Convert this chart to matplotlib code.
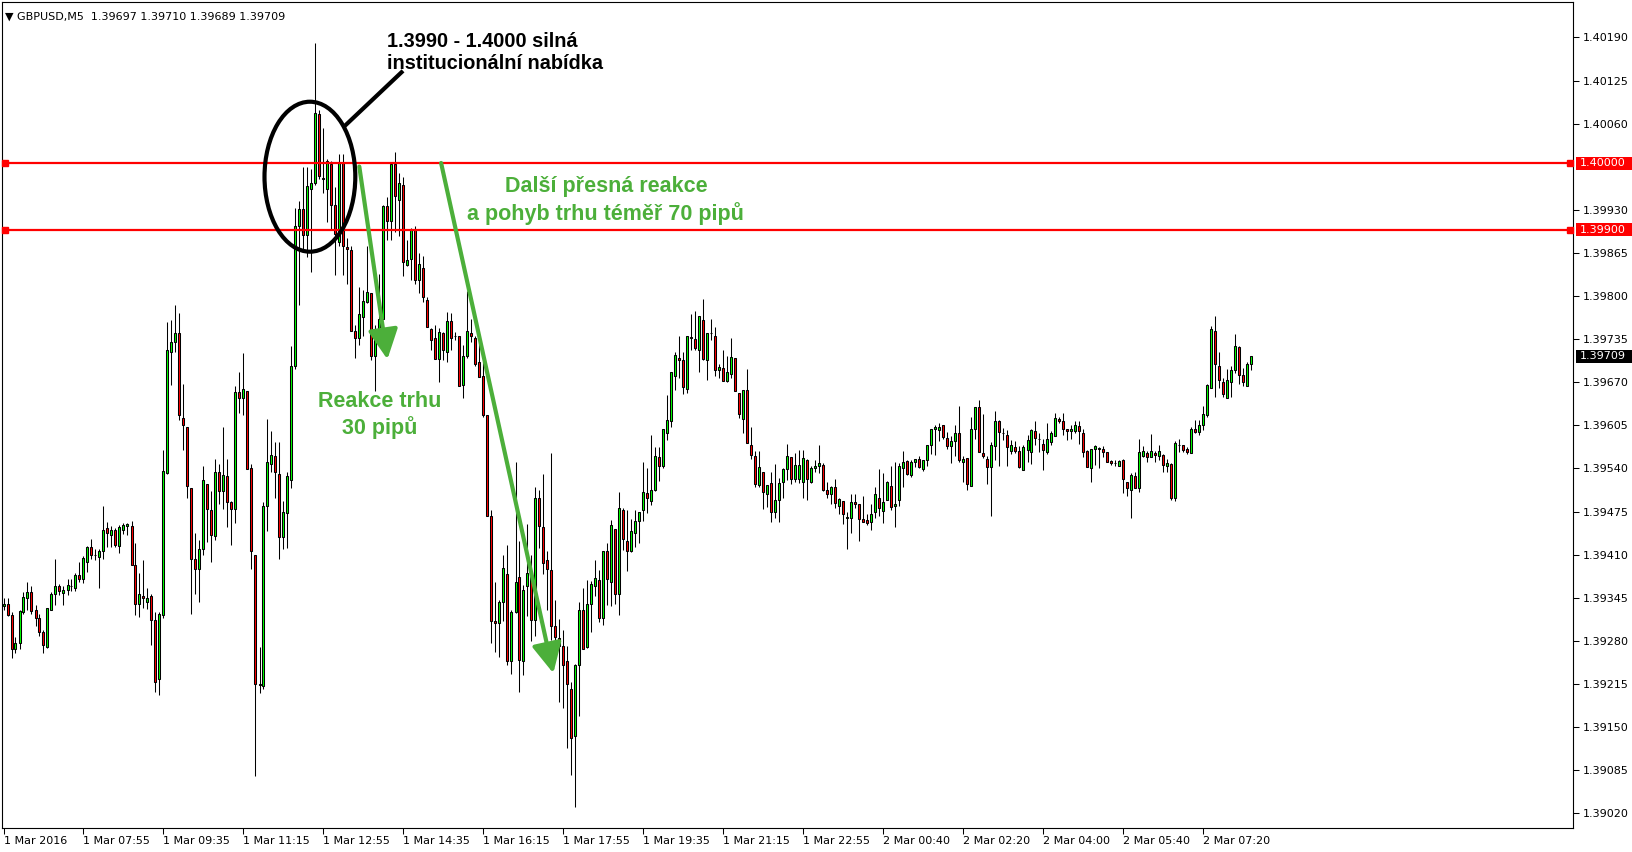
import numpy as np
import matplotlib
matplotlib.use("Agg")
import matplotlib.pyplot as plt
from matplotlib.patches import Ellipse, FancyArrowPatch, Rectangle
import matplotlib.transforms as mtransforms

# GBPUSD M5, ceny v bodech (1e-5)
opens = [
    139333, 139335, 139319, 139268, 139276, 139324, 139344, 139353, 139326, 139315,
    139293, 139271, 139327, 139351, 139362, 139352, 139357, 139362, 139360, 139379,
    139373, 139399, 139422, 139410, 139407, 139415, 139450, 139440, 139447, 139423,
    139447, 139453, 139453, 139395, 139335, 139347, 139339, 139347, 139311, 139222,
    139319, 139533, 139715, 139730, 139745, 139616, 139602, 139510, 139403, 139388,
    139418, 139517, 139477, 139438, 139535, 139506, 139529, 139489, 139479, 139655,
    139646, 139657, 139541, 139410, 139215, 139212, 139484, 139546, 139559, 139532,
    139436, 139473, 139523, 139694, 139905, 139931, 139892, 139962, 139970, 140074,
    139977, 139962, 139999, 139937, 139882, 140001, 139874, 139870, 139748, 139736,
    139769, 139791, 139804, 139709, 139737, 139765, 139936, 139913, 139999, 139945,
    139968, 139847, 139856, 139900, 139824, 139843, 139794, 139751, 139737, 139705,
    139745, 139716, 139762, 139740, 139739, 139666, 139709, 139745, 139736, 139701,
    139679, 139620, 139469, 139310, 139307, 139338, 139381, 139249, 139324, 139377,
    139249, 139362, 139381, 139312, 139495, 139452, 139402, 139387, 139302, 139285,
    139272, 139249, 139208, 139136, 139244, 139326, 139271, 139336, 139363, 139371,
    139314, 139415, 139369, 139449, 139351, 139478, 139430, 139416, 139442, 139461,
    139478, 139503, 139491, 139507, 139558, 139543, 139594, 139611, 139680, 139706,
    139704, 139660, 139738, 139735, 139718, 139764, 139703, 139744, 139740, 139688,
    139691, 139672, 139682, 139706, 139654, 139614, 139659, 139575, 139559, 139515,
    139535, 139502, 139518, 139475, 139493, 139519, 139539, 139557, 139524, 139524,
    139519, 139553, 139519, 139540, 139544, 139545, 139508, 139502, 139512, 139484,
    139491, 139466, 139466, 139490, 139486, 139463, 139462, 139459, 139474, 139496,
    139476, 139492, 139514, 139483, 139493, 139541, 139551, 139530, 139549, 139554,
    139539, 139552, 139576, 139599, 139598, 139605, 139586, 139574, 139582, 139594,
    139550, 139555, 139513, 139599, 139633, 139564, 139554, 139542, 139574, 139611,
    139594, 139590, 139567, 139572, 139566, 139538, 139568, 139565, 139596, 139584,
    139577, 139565, 139580, 139589, 139614, 139611, 139599, 139596, 139596, 139604,
    139594, 139566, 139541, 139570, 139570, 139569, 139565, 139551, 139548, 139544,
    139553, 139520, 139508, 139529, 139511, 139559, 139563, 139558, 139564, 139559,
    139560, 139544, 139547, 139496, 139575, 139576, 139569, 139563, 139599, 139595,
    139605, 139620, 139662, 139747, 139695, 139670, 139646, 139670, 139688, 139723,
    139681, 139665, 139697,
]
highs = [
    139344, 139344, 139324, 139286, 139326, 139354, 139368, 139362, 139334, 139320,
    139296, 139330, 139353, 139403, 139365, 139362, 139373, 139373, 139382, 139399,
    139408, 139423, 139433, 139418, 139419, 139483, 139459, 139453, 139450, 139455,
    139457, 139457, 139460, 139427, 139383, 139402, 139359, 139351, 139324, 139324,
    139568, 139761, 139764, 139786, 139775, 139668, 139602, 139510, 139443, 139432,
    139543, 139517, 139506, 139554, 139546, 139602, 139554, 139491, 139664, 139686,
    139714, 139657, 139546, 139410, 139271, 139489, 139614, 139596, 139580, 139580,
    139491, 139535, 139724, 139933, 139944, 139995, 139995, 139992, 140181, 140080,
    140054, 140007, 140003, 139965, 140014, 140014, 139888, 139876, 139756, 139813,
    139809, 139876, 139804, 139757, 139833, 139938, 139949, 140001, 140018, 139985,
    139980, 139885, 139903, 139906, 139865, 139861, 139798, 139752, 139756, 139752,
    139746, 139776, 139774, 139746, 139740, 139726, 139807, 139766, 139740, 139734,
    139701, 139620, 139477, 139369, 139341, 139410, 139424, 139327, 139549, 139430,
    139364, 139456, 139410, 139512, 139508, 139531, 139416, 139563, 139341, 139313,
    139296, 139272, 139218, 139245, 139339, 139359, 139371, 139370, 139402, 139387,
    139416, 139428, 139462, 139449, 139504, 139480, 139478, 139463, 139478, 139475,
    139550, 139540, 139591, 139572, 139573, 139599, 139651, 139685, 139715, 139740,
    139716, 139740, 139773, 139778, 139770, 139796, 139745, 139765, 139754, 139698,
    139719, 139710, 139737, 139706, 139654, 139659, 139690, 139602, 139566, 139566,
    139535, 139515, 139534, 139547, 139526, 139540, 139577, 139558, 139564, 139568,
    139568, 139554, 139544, 139553, 139575, 139548, 139520, 139514, 139524, 139496,
    139491, 139475, 139502, 139501, 139486, 139498, 139472, 139486, 139512, 139539,
    139533, 139521, 139544, 139549, 139548, 139566, 139553, 139553, 139554, 139559,
    139552, 139576, 139599, 139606, 139608, 139605, 139595, 139589, 139606, 139634,
    139559, 139555, 139617, 139632, 139643, 139622, 139559, 139580, 139627, 139613,
    139601, 139598, 139583, 139581, 139574, 139575, 139590, 139599, 139612, 139593,
    139584, 139608, 139597, 139623, 139617, 139623, 139600, 139606, 139612, 139612,
    139600, 139568, 139570, 139575, 139573, 139574, 139565, 139553, 139552, 139553,
    139554, 139520, 139533, 139534, 139584, 139574, 139566, 139592, 139566, 139575,
    139562, 139554, 139548, 139581, 139584, 139576, 139573, 139602, 139613, 139613,
    139634, 139668, 139755, 139770, 139716, 139676, 139690, 139695, 139743, 139725,
    139692, 139700, 139710,
]
lows = [
    139326, 139317, 139254, 139261, 139267, 139321, 139327, 139320, 139303, 139288,
    139262, 139269, 139327, 139334, 139349, 139334, 139349, 139355, 139355, 139369,
    139367, 139384, 139403, 139402, 139360, 139404, 139422, 139422, 139422, 139413,
    139441, 139440, 139394, 139319, 139316, 139330, 139328, 139274, 139203, 139198,
    139314, 139531, 139666, 139716, 139613, 139568, 139495, 139320, 139351, 139339,
    139410, 139429, 139399, 139432, 139486, 139479, 139452, 139425, 139458, 139624,
    139620, 139539, 139388, 139076, 139201, 139208, 139445, 139535, 139496, 139403,
    139418, 139420, 139510, 139690, 139786, 139870, 139859, 139837, 139967, 139977,
    139955, 139911, 139900, 139832, 139876, 139832, 139818, 139748, 139706, 139726,
    139740, 139790, 139703, 139657, 139737, 139765, 139884, 139884, 139896, 139890,
    139830, 139846, 139824, 139818, 139804, 139791, 139754, 139718, 139705, 139670,
    139703, 139701, 139718, 139734, 139664, 139646, 139706, 139731, 139695, 139678,
    139617, 139469, 139277, 139263, 139255, 139310, 139243, 139230, 139322, 139203,
    139228, 139317, 139280, 139288, 139420, 139381, 139326, 139281, 139272, 139187,
    139179, 139118, 139077, 139030, 139167, 139267, 139269, 139293, 139347, 139308,
    139304, 139334, 139332, 139336, 139319, 139417, 139385, 139414, 139422, 139427,
    139461, 139473, 139485, 139506, 139521, 139541, 139583, 139602, 139659, 139676,
    139653, 139654, 139718, 139718, 139685, 139704, 139674, 139733, 139679, 139676,
    139672, 139671, 139676, 139657, 139616, 139594, 139578, 139554, 139512, 139512,
    139479, 139482, 139459, 139466, 139459, 139496, 139522, 139516, 139520, 139518,
    139496, 139493, 139518, 139535, 139533, 139506, 139495, 139487, 139481, 139471,
    139456, 139419, 139443, 139480, 139431, 139459, 139454, 139447, 139466, 139468,
    139458, 139492, 139478, 139451, 139483, 139512, 139530, 139527, 139542, 139541,
    139536, 139544, 139562, 139560, 139582, 139584, 139569, 139548, 139559, 139550,
    139520, 139508, 139513, 139585, 139565, 139556, 139517, 139469, 139553, 139544,
    139583, 139544, 139562, 139563, 139540, 139537, 139549, 139546, 139575, 139565,
    139538, 139562, 139575, 139589, 139608, 139590, 139583, 139584, 139593, 139577,
    139558, 139542, 139519, 139545, 139540, 139557, 139549, 139545, 139544, 139543,
    139503, 139499, 139466, 139511, 139505, 139558, 139550, 139558, 139549, 139552,
    139535, 139535, 139493, 139491, 139565, 139565, 139562, 139563, 139594, 139590,
    139598, 139617, 139661, 139647, 139661, 139648, 139646, 139647, 139684, 139667,
    139665, 139665, 139689,
]
closes = [
    139336, 139319, 139268, 139276, 139325, 139346, 139353, 139325, 139315, 139293,
    139274, 139329, 139351, 139362, 139355, 139356, 139364, 139363, 139379, 139373,
    139405, 139422, 139410, 139409, 139415, 139447, 139443, 139447, 139425, 139452,
    139455, 139456, 139395, 139336, 139350, 139344, 139344, 139311, 139218, 139320,
    139536, 139719, 139731, 139744, 139620, 139605, 139513, 139403, 139388, 139419,
    139523, 139479, 139440, 139535, 139506, 139530, 139489, 139479, 139655, 139646,
    139660, 139539, 139415, 139215, 139213, 139484, 139550, 139561, 139535, 139436,
    139474, 139529, 139694, 139905, 139931, 139892, 139966, 139970, 140076, 139981,
    139978, 140003, 139937, 139893, 140001, 139876, 139871, 139748, 139736, 139773,
    139793, 139806, 139709, 139738, 139766, 139936, 139913, 139999, 139951, 139971,
    139852, 139854, 139900, 139824, 139848, 139799, 139754, 139734, 139705, 139746,
    139718, 139763, 139737, 139739, 139664, 139709, 139748, 139740, 139698, 139678,
    139620, 139469, 139310, 139307, 139338, 139390, 139249, 139323, 139369, 139251,
    139356, 139383, 139312, 139495, 139453, 139397, 139389, 139303, 139286, 139272,
    139243, 139215, 139134, 139244, 139326, 139268, 139336, 139365, 139375, 139315,
    139415, 139374, 139455, 139351, 139481, 139434, 139416, 139446, 139461, 139475,
    139504, 139495, 139508, 139559, 139544, 139599, 139613, 139685, 139711, 139703,
    139663, 139740, 139737, 139721, 139770, 139705, 139745, 139745, 139689, 139693,
    139672, 139686, 139708, 139657, 139622, 139658, 139578, 139561, 139516, 139542,
    139504, 139515, 139475, 139492, 139518, 139539, 139559, 139524, 139545, 139545,
    139555, 139524, 139540, 139544, 139548, 139508, 139502, 139512, 139488, 139494,
    139472, 139467, 139490, 139486, 139463, 139459, 139458, 139472, 139502, 139480,
    139490, 139519, 139482, 139487, 139544, 139549, 139531, 139549, 139554, 139542,
    139552, 139576, 139599, 139602, 139602, 139587, 139574, 139582, 139594, 139553,
    139554, 139516, 139599, 139632, 139565, 139559, 139542, 139575, 139611, 139595,
    139593, 139573, 139576, 139567, 139542, 139572, 139583, 139598, 139586, 139585,
    139568, 139584, 139594, 139616, 139611, 139600, 139596, 139599, 139606, 139596,
    139565, 139542, 139570, 139574, 139571, 139565, 139550, 139548, 139548, 139551,
    139524, 139510, 139530, 139511, 139565, 139566, 139558, 139566, 139561, 139566,
    139545, 139548, 139496, 139578, 139576, 139568, 139565, 139600, 139595, 139605,
    139622, 139666, 139751, 139697, 139673, 139652, 139673, 139688, 139725, 139681,
    139670, 139698, 139709,
]

time_labels = ["1 Mar 2016", "1 Mar 07:55", "1 Mar 09:35", "1 Mar 11:15", "1 Mar 12:55",
               "1 Mar 14:35", "1 Mar 16:15", "1 Mar 17:55", "1 Mar 19:35", "1 Mar 21:15",
               "1 Mar 22:55", "2 Mar 00:40", "2 Mar 02:20", "2 Mar 04:00", "2 Mar 05:40",
               "2 Mar 07:20"]
price_ticks = [1.40190, 1.40125, 1.40060, 1.39930, 1.39865, 1.39800, 1.39735, 1.39670,
               1.39605, 1.39540, 1.39475, 1.39410, 1.39345, 1.39280, 1.39215, 1.39150,
               1.39085, 1.39020]
level_high = 1.40000
level_low = 1.39900
last_price = 1.39709
header = "\u25bc GBPUSD,M5  1.39697 1.39710 1.39689 1.39709"

o = np.array(opens) / 1e5
h = np.array(highs) / 1e5
l = np.array(lows) / 1e5
c = np.array(closes) / 1e5
x = np.arange(len(o))

green_txt = "#4caf3a"

fig = plt.figure(figsize=(16.33, 8.52), dpi=100)
W, H = 1633, 852
ax = fig.add_axes([2 / W, (H - 828) / H, (1573 - 2) / W, (828 - 2) / H])
ax.set_xlim(-0.375, 392.375)
ax.set_ylim(1.389977, 1.402435)

# svíčky
ax.vlines(x, l, h, colors="black", linewidth=0.75, zorder=2)
up = c >= o
face = np.where(up, "#00ff00", "#ff0000")
ax.bar(x, np.abs(c - o), bottom=np.minimum(o, c), width=0.5, color=face,
       edgecolor="black", linewidth=0.75, zorder=3)

# úrovně
for lvl in (level_high, level_low):
    ax.axhline(lvl, color="#ff0000", linewidth=1.6, zorder=4)
    ax.plot([0.4, 391.6], [lvl, lvl], "s", ms=4, color="#ff0000", clip_on=False, zorder=5)

# osy
for s in ax.spines.values():
    s.set_linewidth(0.8)
ax.yaxis.tick_right()
ax.set_yticks(price_ticks)
ax.set_yticklabels([f"{p:.5f}" for p in price_ticks])
ax.set_xticks(np.arange(0, 20 * len(time_labels), 20))
ax.set_xticklabels(time_labels, ha="left")
ax.tick_params(axis="both", direction="out", length=4, width=0.75, labelsize=8,
               colors="black")
ax.tick_params(axis="y", pad=3)
ax.tick_params(axis="x", pad=2)
for lab in ax.get_xticklabels():
    lab.set_horizontalalignment("left")

# popisky cen na ose
trans = mtransforms.blended_transform_factory(ax.transAxes, ax.transData)
ph = 6.5 / 66300
for val, col in ((level_high, "#ff0000"), (level_low, "#ff0000"), (last_price, "black")):
    ax.add_patch(Rectangle((1.0 + 3 / 1571, val - ph), 62 / 1571, 2 * ph, transform=trans,
                           facecolor=col, edgecolor="none", clip_on=False, zorder=6))
    ax.text(1.0 + 7 / 1571, val, f"{val:.5f}", transform=trans, color="white", fontsize=8,
            va="center", ha="left", clip_on=False, zorder=7)

ax.text(0.002, 0.988, header, transform=ax.transAxes, fontsize=8, va="top", ha="left")

# anotace
ax.add_patch(Ellipse((76.6, 1.39980), 22.7, 0.002262, fill=False, edgecolor="black",
                     linewidth=3, zorder=8))
ax.plot([85.3, 99.5], [1.400565, 1.401375], color="black", linewidth=3, zorder=8)
for txt, base in (("1.3990 - 1.4000 silná", 1.401752),
                  ("institucionální nabídka", 1.401420)):
    ax.text(95.8, base, txt, fontsize=14.3, fontweight="bold", family="Liberation Sans",
            va="baseline", ha="left", zorder=9)

for (x0, y0), (x1, y1) in (((88.95, 1.399953), (95.98, 1.397046)),
                           ((109.4, 1.400007), (137.45, 1.392312))):
    ax.add_patch(FancyArrowPatch((x0, y0), (x1, y1),
                                 arrowstyle="-|>,head_length=1.3,head_width=0.65",
                                 mutation_scale=14, linewidth=3, color=green_txt,
                                 shrinkA=0, shrinkB=0, zorder=9))

ax.text(94.1, 1.396206, "Reakce trhu\n30 pipů", fontsize=15.5, fontweight="bold",
        family="Liberation Sans", color=green_txt, ha="center", va="center",
        multialignment="center", linespacing=1.25, zorder=9)
ax.text(150.6, 1.399440, "Další přesná reakce\na pohyb trhu téměř 70 pipů", fontsize=15.5,
        fontweight="bold", family="Liberation Sans", color=green_txt, ha="center",
        va="center", multialignment="center", linespacing=1.25, zorder=9)

fig.savefig("out.png", dpi=100, facecolor="white")
